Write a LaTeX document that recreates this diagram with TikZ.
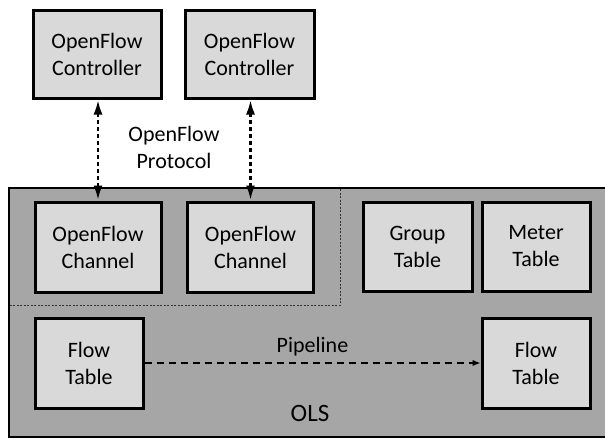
\documentclass[tikz,border=0pt]{standalone}
\usepackage{fontspec}
\setmainfont{Carlito}
\usetikzlibrary{arrows.meta}
\definecolor{olsgray}{HTML}{A6A6A6}
\definecolor{boxgray}{HTML}{D9D9D9}
\begin{document}
\begin{tikzpicture}[x=1pt,y=-1pt,
  blk/.style={draw=black,line width=3pt,fill=boxgray,minimum width=126pt,minimum height=88pt,align=center,inner sep=0pt,
    font=\fontsize{22}{27}\selectfont},
  lbl/.style={align=center,font=\fontsize{22}{27}\selectfont,inner sep=0pt},
  ctrlarrow/.style={line width=2.8pt,dash pattern=on 4pt off 3pt,{Latex[length=15pt,width=9pt]}-{Latex[length=15pt,width=9pt]}},
  pipe/.style={line width=1.4pt,dash pattern=on 7pt off 5pt,-{Latex[length=8pt,width=6.5pt]}}]
\useasboundingbox (0,0) rectangle (605,439);
% OLS box
\draw[line width=2pt,fill=olsgray] (9,188) rectangle (612,437);
% dotted channel region
\draw[gray!40!black,line width=0.6pt,dash pattern=on 2pt off 1.5pt] (340,189) -- (340,305) -- (10,305);
% controllers
\node[blk,minimum width=128pt] (c1) at (97,54) {OpenFlow\\Controller};
\node[blk,minimum width=129pt] (c2) at (249.5,54) {OpenFlow\\Controller};
% channels
\node[blk,minimum height=90pt] (ch1) at (98,247) {OpenFlow\\Channel};
\node[blk,minimum height=90pt] (ch2) at (250.5,247) {OpenFlow\\Channel};
% group / meter
\node[blk,minimum width=109pt,minimum height=89pt] (gt) at (417.5,246.5) {Group\\Table};
\node[blk,minimum width=108pt,minimum height=89pt] (mt) at (536,246.5) {Meter\\Table};
% flow tables
\node[blk,minimum width=108pt,minimum height=90pt] (ft1) at (89,363) {Flow\\Table};
\node[blk,minimum width=108pt,minimum height=90pt] (ft2) at (536,363) {Flow\\Table};
% arrows
\draw[ctrlarrow] (c1.south -| ch1.north) -- (ch1.north);
\draw[ctrlarrow] (c2.south -| ch2.north) -- (ch2.north);
\draw[pipe] (ft1.east) -- (ft2.west) node[midway,above=6pt,lbl] (pl) {Pipeline};
% labels
\node[lbl] (proto) at (174,147) {OpenFlow\\Protocol};
\node[lbl,font=\fontsize{25}{29}\selectfont] (ols) at (310,413) {OLS};
\end{tikzpicture}
\end{document}
